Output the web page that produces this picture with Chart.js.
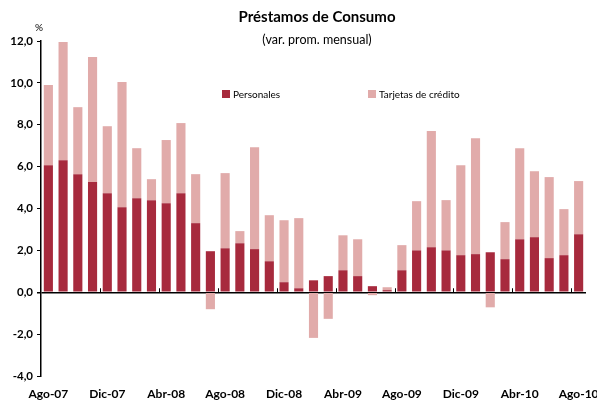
<!DOCTYPE html>
<html><head><meta charset="utf-8">
<script src="https://cdn.jsdelivr.net/npm/chart.js@4/dist/chart.umd.min.js"></script>
<style>
html,body{margin:0;padding:0;background:#fff;overflow:hidden;}
#wrap{position:relative;width:597px;height:402px;font-family:Lato,"Open Sans",sans-serif;color:#000;}
canvas{position:absolute;left:0;top:0;}
.t{position:absolute;white-space:nowrap;}
.sq{display:inline-block;width:8px;height:8px;margin-right:3px;vertical-align:-0px;}
</style></head>
<body>
<div id="wrap">
<canvas id="c" width="597" height="402"></canvas>
<div class="t" style="left:0;width:634px;text-align:center;top:7px;font-weight:bold;font-size:15px;">Préstamos de Consumo</div>
<div class="t" style="left:0;width:634px;text-align:center;top:32px;font-size:12.5px;">(var. prom. mensual)</div>
<div class="t" style="left:35px;top:21px;font-size:10px;">%</div>
<div class="t" style="left:222px;top:88px;font-size:10px;"><span class="sq" style="background:#A72A3D"></span>Personales</div>
<div class="t" style="left:368px;top:88px;font-size:10px;"><span class="sq" style="background:#E1ABAA"></span>Tarjetas de crédito</div>
</div>
<script>
const categories = ["Ago-07","Sep-07","Oct-07","Nov-07","Dic-07","Ene-08","Feb-08","Mar-08","Abr-08","May-08","Jun-08","Jul-08",
"Ago-08","Sep-08","Oct-08","Nov-08","Dic-08","Ene-09","Feb-09","Mar-09","Abr-09","May-09","Jun-09","Jul-09",
"Ago-09","Sep-09","Oct-09","Nov-09","Dic-09","Ene-10","Feb-10","Mar-10","Abr-10","May-10","Jun-10","Jul-10","Ago-10"];
const personales = [6.07,6.30,5.64,5.26,4.73,4.06,4.49,4.40,4.25,4.73,3.30,1.96,
2.10,2.34,2.06,1.48,0.48,0.19,0.57,0.77,1.05,0.77,0.29,0.10,
1.05,2.00,2.15,2.00,1.77,1.82,1.91,1.58,2.53,2.63,1.63,1.77,2.77];
const tarjetas = [3.83,5.65,3.20,5.97,3.20,5.98,2.39,1.00,3.02,3.35,2.34,-0.81,
3.59,0.58,4.87,2.20,2.96,3.35,-2.18,-1.27,1.67,1.76,-0.14,0.14,
1.20,2.35,5.55,2.40,4.30,5.54,-0.72,1.77,4.35,3.15,3.87,2.20,2.54];
const yTicks = [-4,-2,0,2,4,6,8,10,12];

const boundaryTicks = {
  id:'boundaryTicks',
  afterDatasetsDraw(chart){
    const x = chart.scales.x, y = chart.scales.y, ctx = chart.ctx;
    const y0 = y.getPixelForValue(0);
    ctx.save(); ctx.strokeStyle='#000'; ctx.lineWidth=1;
    for(let i=4;i<categories.length;i+=4){
      const px = Math.round((x.getPixelForValue(i-1)+x.getPixelForValue(i))/2)+0.5;
      ctx.beginPath(); ctx.moveTo(px,y0-4); ctx.lineTo(px,y0); ctx.stroke();
    }
    ctx.restore();
  }
};

new Chart(document.getElementById('c'),{
  type:'bar',
  data:{labels:categories,datasets:[
    {label:'Personales',data:personales,backgroundColor:'#A72A3D',barPercentage:0.62,categoryPercentage:1},
    {label:'Tarjetas de crédito',data:tarjetas,backgroundColor:'#E1ABAA',barPercentage:0.62,categoryPercentage:1}
  ]},
  options:{
    responsive:false,animation:false,
    layout:{padding:{top:41,right:11,bottom:0,left:0}},
    plugins:{legend:{display:false},tooltip:{enabled:false},title:{display:false}},
    scales:{
      x:{stacked:true,offset:true,
        grid:{display:false,drawTicks:false},border:{display:false},
        afterFit:(s)=>{s.height=26;s.paddingLeft=0;s.paddingRight=0;},
        ticks:{autoSkip:false,maxRotation:0,minRotation:0,padding:11,color:'#000',
          font:{family:'Lato',size:12,weight:'bold'},
          callback:(v,i)=> i%4===0 ? categories[i] : ''}
      },
      y:{stacked:true,min:-4,max:12,
        afterBuildTicks:(s)=>{s.ticks=yTicks.map(v=>({value:v}));},
        afterFit:(s)=>{s.width=41;},
        grid:{drawOnChartArea:true,color:(c)=> (c.tick && c.tick.value===0)?'#000':'rgba(0,0,0,0)',lineWidth:(c)=>(c.tick&&c.tick.value===0)?1.5:1,
          tickColor:'#000',tickLength:4},
        border:{display:true,color:'#000',width:1.5},
        ticks:{padding:4,color:'#000',font:{family:'Lato',size:11.5,weight:'bold'},
          callback:(v)=> v.toFixed(1).replace('.',',')}
      }
    }
  },
  plugins:[boundaryTicks]
});
</script>
</body></html>
